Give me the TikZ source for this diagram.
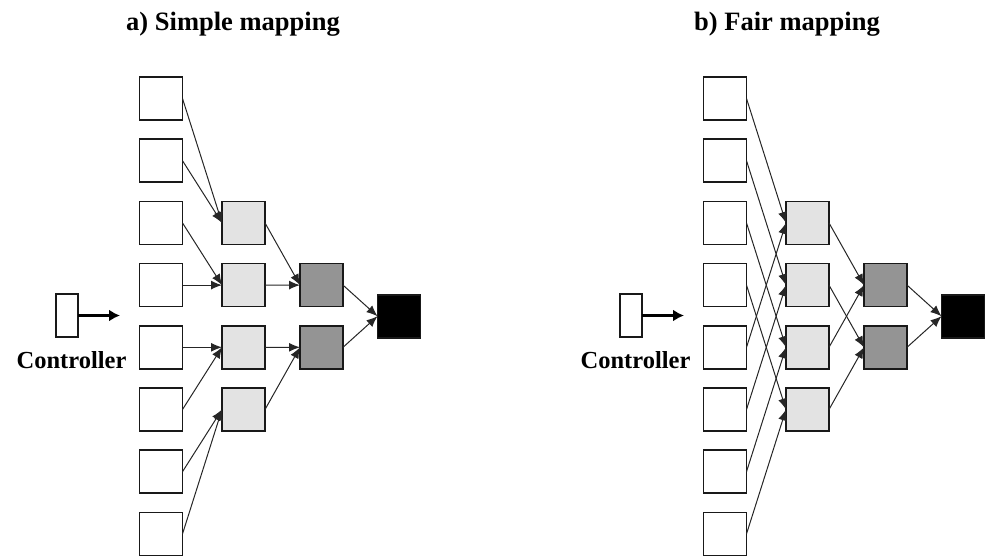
\documentclass[tikz,border=0pt]{standalone}
\usepackage{fontspec}
\setmainfont{Liberation Serif}
\usetikzlibrary{arrows.meta}
\begin{document}
\begin{tikzpicture}[x=1pt,y=-1pt,
  cell/.style={draw=black!90, line width=1.6pt, minimum size=43pt, inner sep=0pt, outer sep=0pt},
  inbox/.style={cell, fill=white},
  stageone/.style={cell, fill=black!11},
  stagetwo/.style={cell, fill=black!42},
  sink/.style={cell, fill=black},
  ctrl/.style={draw=black!90, line width=1.6pt, minimum width=22pt, minimum height=43pt, inner sep=0pt, outer sep=0pt, fill=white},
  link/.style={line width=1pt, black!85, -{Latex[length=11pt,width=9pt]}},
  ctrlarrow/.style={line width=2.8pt, -{Latex[length=11pt,width=12pt]}},
  title/.style={font=\fontsize{26.5}{30}\selectfont\bfseries},
  ctrltext/.style={font=\fontsize{24.5}{28}\selectfont\bfseries}]

\useasboundingbox (0,0) rectangle (985,557);

% panel headings
\node[title, anchor=base] (ta) at (233,30) {a) Simple mapping};
\node[title, anchor=base] (tb) at (787,30) {b) Fair mapping};

% the two panels share the same layout: s = simple, f = fair
\foreach \p/\dx in {s/0,f/564} {
  \foreach \i in {1,...,8}
    \node[inbox] (\p-in-\i) at ({161+\dx}, {98.5+62.2*(\i-1)}) {};
  \foreach \j in {1,...,4}
    \node[stageone] (\p-a-\j) at ({243.5+\dx}, {222.9+62.2*(\j-1)}) {};
  \foreach \k in {1,2}
    \node[stagetwo] (\p-b-\k) at ({321.5+\dx}, {285.1+62.2*(\k-1)}) {};
  \node[sink] (\p-c) at ({399+\dx}, 316.2) {};
  % controller with its arrow and caption
  \node[ctrl] (\p-ctl) at ({67+\dx}, 315.5) {};
  \coordinate (\p-ctlend) at ({120+\dx}, 315.5);
  \draw[ctrlarrow] (\p-ctl.east) -- (\p-ctlend);
  \node[ctrltext, anchor=base] (\p-ctltxt) at ({71.5+\dx}, 368) {Controller};
}

% simple mapping: neighbouring inputs are merged
\foreach \i/\j in {1/1,2/1,3/2,4/2,5/3,6/3,7/4,8/4}
  \draw[link] (s-in-\i.east) -- (s-a-\j.west);
\foreach \j/\k in {1/1,2/1,3/2,4/2}
  \draw[link] (s-a-\j.east) -- (s-b-\k.west);
\foreach \k in {1,2}
  \draw[link] (s-b-\k.east) -- (s-c.west);

% fair mapping: inputs are interleaved
\foreach \i/\j in {1/1,2/2,3/3,4/4,5/1,6/2,7/3,8/4}
  \draw[link] (f-in-\i.east) -- (f-a-\j.west);
\foreach \j/\k in {1/1,2/2,3/1,4/2}
  \draw[link] (f-a-\j.east) -- (f-b-\k.west);
\foreach \k in {1,2}
  \draw[link] (f-b-\k.east) -- (f-c.west);

\end{tikzpicture}
\end{document}
